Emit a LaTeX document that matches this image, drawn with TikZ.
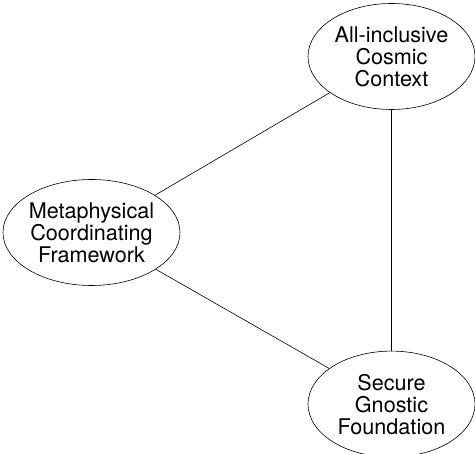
\documentclass[tikz,border=0pt]{standalone}
\usepackage{fontspec}
\setmainfont{TeX Gyre Heros}
\usepackage{tikz}
\usetikzlibrary{positioning,shapes.geometric}
\tikzset{
  bubble/.style={ellipse, draw, line width=0.6pt, minimum width=167pt, minimum height=106pt,
                 inner sep=0pt, align=center, font=\fontsize{21.6}{22}\selectfont},
  link/.style={line width=0.6pt},
}

\begin{document}
\begin{tikzpicture}[x=1pt, y=1pt]
  \useasboundingbox (0,0) rectangle (475,-454);
  \node[bubble] (context) at (391.5,-56.5) {All-inclusive\\Cosmic\\Context};
  \node[bubble] (framework) at (91.5,-232.5) {Metaphysical\\Coordinating\\Framework};
  \node[bubble] (foundation) [below=241pt of context] {Secure\\Gnostic\\Foundation};

  \draw[link] (context) -- (framework);
  \draw[link] (framework) -- (foundation);
  \draw[link] (context) -- (foundation);
\end{tikzpicture}
\end{document}
